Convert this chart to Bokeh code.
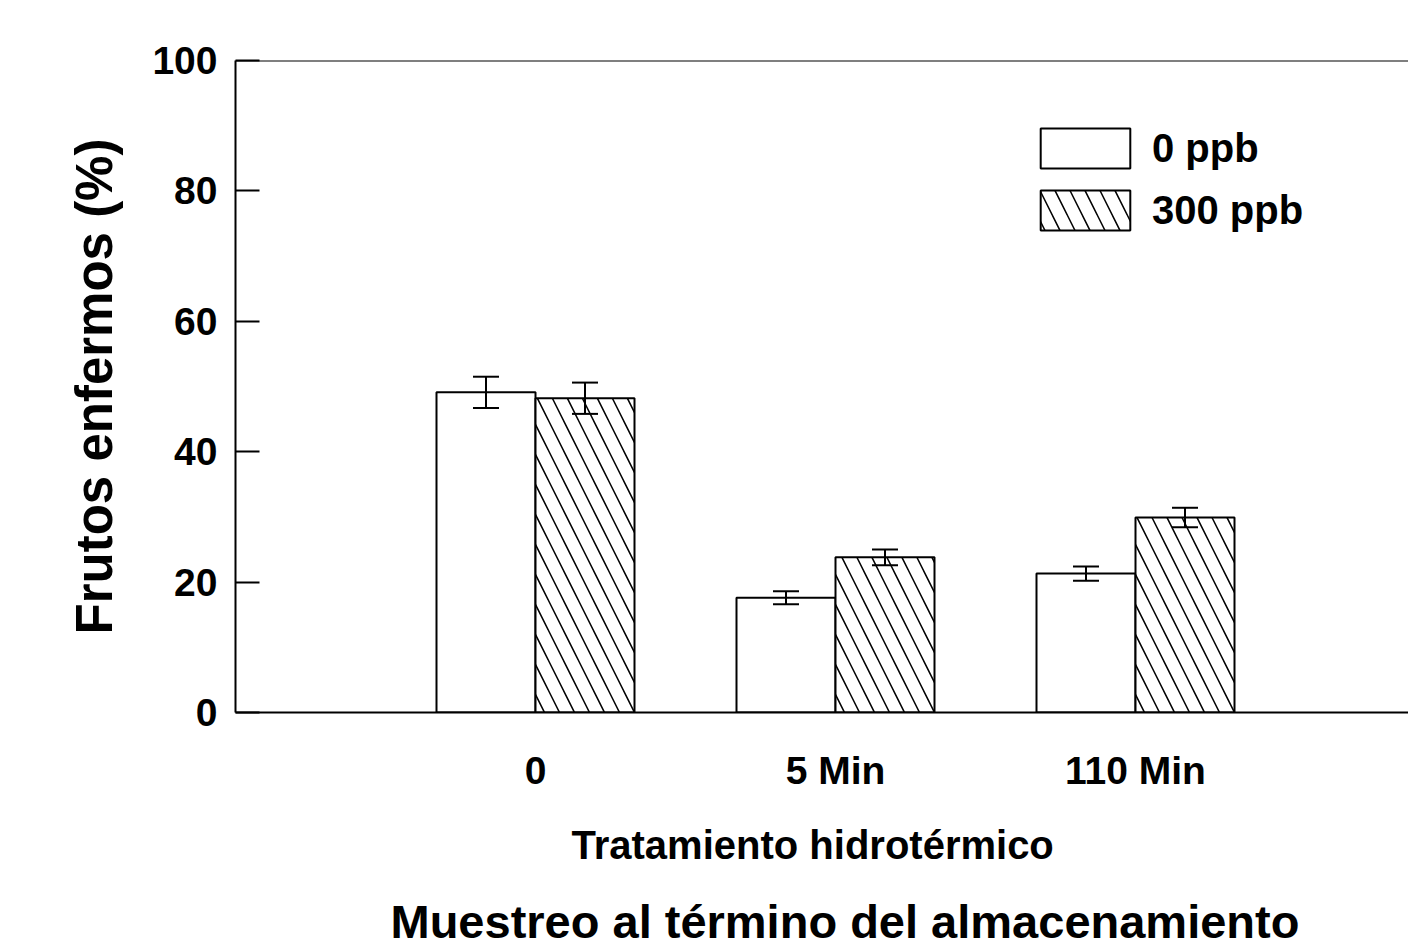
from bokeh.plotting import figure
from bokeh.models import (Range1d, FixedTicker, Whisker, TeeHead, ColumnDataSource,
                          Legend, LegendItem, Span, Title)
from bokeh.embed import file_html
from bokeh.resources import INLINE

# ---- data ----
categories = ["0", "5 Min", "110 Min"]
ppb0 = [49.1, 17.6, 21.3]
err0 = [2.4, 1.0, 1.1]
ppb300 = [48.2, 23.8, 29.9]
err300 = [2.4, 1.2, 1.5]
yticks = [0, 20, 40, 60, 80, 100]

FONT = "Liberation Sans"
BW = 0.33
pos = [i + 1 for i in range(len(categories))]

src = ColumnDataSource(dict(
    x0=[p - BW / 2 for p in pos], x1=[p + BW / 2 for p in pos],
    v0=ppb0, v1=ppb300,
    u0=[v + e for v, e in zip(ppb0, err0)], l0=[v - e for v, e in zip(ppb0, err0)],
    u1=[v + e for v, e in zip(ppb300, err300)], l1=[v - e for v, e in zip(ppb300, err300)],
))

p = figure(width=1408, height=948, output_backend="svg", toolbar_location=None,
           x_range=Range1d(0, 3.91), y_range=Range1d(0, 100),
           min_border_left=235, min_border_right=0, min_border_top=60, min_border_bottom=236)
p.outline_line_color = None
p.grid.visible = False
p.background_fill_color = "white"

r0 = p.vbar(x="x0", top="v0", width=BW, source=src, fill_color="white",
            line_color="black", line_width=2)
r1 = p.vbar(x="x1", top="v1", width=BW, source=src, fill_color="white",
            line_color="black", line_width=2, hatch_pattern="left_diagonal_line",
            hatch_color="black", hatch_scale=30, hatch_weight=1.5)

for b, u, l in (("x0", "u0", "l0"), ("x1", "u1", "l1")):
    w = Whisker(base=b, upper=u, lower=l, source=src, line_width=2, level="overlay",
                line_color="black",
                upper_head=TeeHead(size=26, line_width=2, line_color="black"),
                lower_head=TeeHead(size=26, line_width=2, line_color="black"))
    p.add_layout(w)

p.add_layout(Span(location=100, dimension="width", line_color="black", line_width=2))

# y axis
ya = p.yaxis[0]
ya.ticker = FixedTicker(ticks=yticks)
ya.major_tick_in = 24
ya.major_tick_out = 0
ya.minor_tick_line_color = None
ya.axis_line_width = 2
ya.axis_line_color = "black"
ya.major_tick_line_width = 2
ya.major_tick_line_color = "black"
ya.major_label_text_font = FONT
ya.major_label_text_font_style = "bold"
ya.major_label_text_font_size = "39px"
ya.major_label_text_color = "black"
ya.major_label_standoff = 18
ya.axis_label = "Frutos enfermos (%)"
ya.axis_label_text_font = FONT
ya.axis_label_text_font_style = "bold"
ya.axis_label_text_font_size = "51px"
ya.axis_label_text_color = "black"
ya.axis_label_standoff = 26

# x axis
xa = p.xaxis[0]
xa.ticker = FixedTicker(ticks=pos)
xa.major_label_overrides = {pp: c for pp, c in zip(pos, categories)}
xa.major_tick_in = 0
xa.major_tick_out = 0
xa.minor_tick_line_color = None
xa.axis_line_width = 2
xa.axis_line_color = "black"
xa.major_label_text_font = FONT
xa.major_label_text_font_style = "bold"
xa.major_label_text_font_size = "39px"
xa.major_label_text_color = "black"
xa.major_label_standoff = 36

legend = Legend(items=[LegendItem(label="0 ppb", renderers=[r0]),
                       LegendItem(label="300 ppb", renderers=[r1])],
                location=(794, 477), glyph_width=112, glyph_height=50, label_height=50,
                label_standoff=11, spacing=12, padding=0, margin=0,
                border_line_alpha=0, background_fill_alpha=0,
                label_text_font=FONT, label_text_font_style="bold",
                label_text_font_size="40px", label_text_color="black")
p.add_layout(legend)

p.add_layout(Title(text="Tratamiento hidrotérmico", align="left", offset=336,
                   standoff=52, text_color="black",
                   text_font=FONT, text_font_style="bold", text_font_size="40px"), "below")
p.add_layout(Title(text="Muestreo al término del almacenamiento", align="left", offset=155,
                   standoff=0, text_color="black",
                   text_font=FONT, text_font_style="bold", text_font_size="47px"), "below")

open("out.html", "w").write(file_html(p, INLINE))
